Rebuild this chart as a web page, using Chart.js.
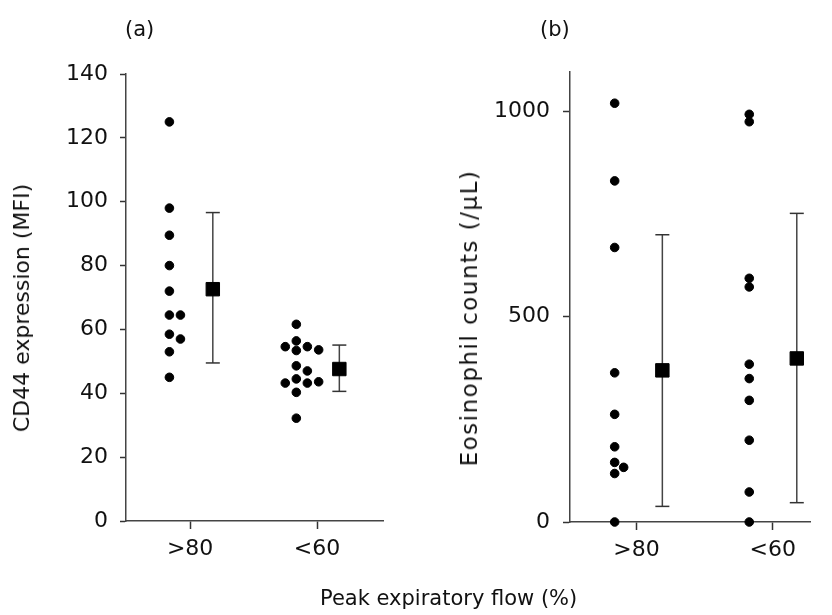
<!DOCTYPE html>
<html><head><meta charset="utf-8">
<script src="https://cdn.jsdelivr.net/npm/chart.js@4.4.0/dist/chart.umd.min.js"></script>
<style>
html,body{margin:0;padding:0;background:#fff;}
#wrap{position:relative;width:832px;height:615px;overflow:hidden;font-family:"DejaVu Sans";color:#111;}
.cw{position:absolute;top:0;height:615px;}
#ca{left:0;width:420px;}
#cb{left:420px;width:412px;}
.lbl{position:absolute;font-size:21px;line-height:25px;white-space:nowrap;}
.ytitle{position:absolute;white-space:nowrap;line-height:26px;transform:translate(-50%,-50%) rotate(-90deg);}
</style></head><body>
<div id="wrap">
<div class="cw" id="ca"><canvas id="chartA" width="420" height="615"></canvas></div>
<div class="cw" id="cb"><canvas id="chartB" width="412" height="615"></canvas></div>
<div class="lbl" style="left:125px;top:17px;">(a)</div>
<div class="lbl" style="left:540px;top:17px;">(b)</div>
<div class="lbl" style="left:320px;top:586px;">Peak expiratory flow (%)</div>
<div class="ytitle" style="left:22px;top:308px;font-size:22px;">CD44 expression (MFI)</div>
<div class="ytitle" style="left:469px;top:318px;font-size:23px;letter-spacing:1.5px;">Eosinophil counts (/µL)</div>
</div>
<script>
// ---- data ----
const categories = ['>80', '<60'];
const categoryPos = [1, 2];

// Panel (a): CD44 expression (MFI)
const yTicksA = [0, 20, 40, 60, 80, 100, 120, 140];
const cd44HighX = [0.837, 0.837, 0.837, 0.837, 0.837, 0.837, 0.924, 0.837, 0.924, 0.837, 0.837];
const cd44HighY = [125, 98, 89.5, 80, 72, 64.5, 64.5, 58.5, 57, 53, 45];
const cd44LowX = [1.837, 1.837, 1.75, 1.924, 1.837, 2.013, 1.837, 1.924, 1.837, 1.75, 1.924, 2.013, 1.837, 1.837];
const cd44LowY = [61.6, 56.4, 54.6, 54.6, 53.4, 53.6, 48.6, 47.0, 44.5, 43.2, 43.2, 43.6, 40.3, 32.2];
const cd44MeanX = [1.179, 2.176];
const cd44Mean = [72.6, 47.6];
const cd44Lo = [49.5, 40.6];
const cd44Hi = [96.6, 55.1];

// Panel (b): Eosinophil counts (/µL)
const yTicksB = [0, 500, 1000];
const eosHighX = [0.84, 0.84, 0.84, 0.84, 0.84, 0.84, 0.84, 0.906, 0.84, 0.84];
const eosHighY = [1019, 830, 668, 363, 262, 183, 145, 133, 118, 0];
const eosLowX = [1.828, 1.828, 1.828, 1.828, 1.828, 1.828, 1.828, 1.828, 1.828, 1.828];
const eosLowY = [992, 974, 593, 572, 384, 349, 296, 199, 73, 0];
const eosMeanX = [1.19, 2.177];
const eosMean = [369, 398];
const eosLo = [38, 47];
const eosHi = [699, 751];

// ---- helpers ----
const FONT = {family: 'DejaVu Sans', size: 22};
const INK = '#111';
function pts(xs, ys) { return xs.map((x, i) => ({x: x, y: ys[i]})); }

function dotSet(xs, ys) {
  return {type: 'scatter', data: pts(xs, ys), pointStyle: 'circle', pointRadius: 4.3,
    pointBorderWidth: 1, backgroundColor: '#000', borderColor: '#000', order: 2, clip: false};
}
function meanSet(xs, ys) {
  return {type: 'scatter', data: pts(xs, ys), pointStyle: 'rect', pointRadius: 9.5,
    pointBorderWidth: 1, backgroundColor: '#000', borderColor: '#000', order: 0, clip: false};
}
function errSet(x, lo, hi) {
  return {type: 'line', data: [{x: x, y: lo}, {x: x, y: hi}], showLine: true,
    borderColor: '#444', borderWidth: 1.5, pointStyle: 'line', pointRadius: 7,
    pointBorderWidth: 1.5, pointBorderColor: '#333', backgroundColor: '#333',
    fill: false, order: 1, clip: false};
}

function makePanel(id, cfg) {
  const datasets = [];
  cfg.means.x.forEach((x, i) => datasets.push(errSet(x, cfg.means.lo[i], cfg.means.hi[i])));
  datasets.push(meanSet(cfg.means.x, cfg.means.m));
  cfg.groups.forEach(g => datasets.push(dotSet(g.x, g.y)));
  return new Chart(document.getElementById(id), {
    type: 'scatter',
    data: {datasets: datasets},
    options: {
      responsive: false, animation: false, devicePixelRatio: 1,
      layout: {padding: {top: cfg.top, right: cfg.right, left: 0, bottom: 0}},
      plugins: {legend: {display: false}, tooltip: {enabled: false}},
      scales: {
        x: {
          type: 'linear', min: cfg.xmin, max: cfg.xmax,
          afterBuildTicks: s => { s.ticks = categoryPos.map(v => ({value: v})); },
          afterFit: s => { s.height = 615 - cfg.bottom; },
          grid: {display: true, drawOnChartArea: false, drawTicks: true, tickLength: 8, tickColor: '#333', tickWidth: 1.5},
          border: {display: true, color: '#444', width: 1.5},
          ticks: {color: INK, font: FONT, padding: 7, maxRotation: 0,
            callback: v => categories[categoryPos.indexOf(v)]}
        },
        y: {
          type: 'linear', min: 0, max: cfg.ymax,
          afterBuildTicks: s => { s.ticks = cfg.yticks.map(v => ({value: v})); },
          afterFit: s => { s.width = cfg.left; },
          grid: {display: true, drawOnChartArea: false, drawTicks: true, tickLength: cfg.tickLen, tickColor: '#333', tickWidth: 1.5},
          border: {display: true, color: '#444', width: 1.5},
          ticks: {color: INK, font: FONT, padding: cfg.tickPad, callback: v => String(v)},
          title: {display: false}
        }
      }
    }
  });
}

makePanel('chartA', {
  top: 74, right: 37, left: 126, bottom: 521, xmin: 0.495, xmax: 2.52, ymax: 140,
  yticks: yTicksA, tickLen: 6, tickPad: 12,
  means: {x: cd44MeanX, m: cd44Mean, lo: cd44Lo, hi: cd44Hi},
  groups: [{x: cd44HighX, y: cd44HighY}, {x: cd44LowX, y: cd44LowY}]
});
makePanel('chartB', {
  top: 72, right: 22, left: 150, bottom: 522, xmin: 0.512, xmax: 2.274, ymax: 1095,
  yticks: yTicksB, tickLen: 7, tickPad: 13,
  means: {x: eosMeanX, m: eosMean, lo: eosLo, hi: eosHi},
  groups: [{x: eosHighX, y: eosHighY}, {x: eosLowX, y: eosLowY}]
});
</script>
</body></html>
